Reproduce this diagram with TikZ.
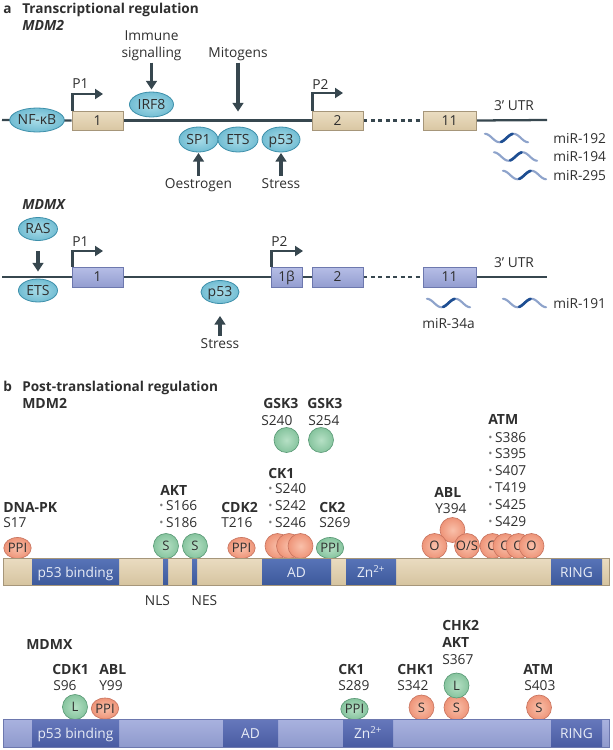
\documentclass[tikz,border=0pt]{standalone}
\usepackage{fontspec}
\setmainfont{Open Sans}
\usetikzlibrary{shapes.geometric,arrows.meta,backgrounds}
\newcommand\pxu{0.75pt}
\definecolor{txtcol}{HTML}{2F2F2F}
\definecolor{linecol}{HTML}{37474F}
\definecolor{tfin}{HTML}{A9DCE8}
\definecolor{tfout}{HTML}{72BDD3}
\definecolor{tfedge}{HTML}{3D8FAA}
\definecolor{extantop}{HTML}{EBDDC2}
\definecolor{extanbot}{HTML}{D9C7A3}
\definecolor{extanedge}{HTML}{A6967A}
\definecolor{exlavtop}{HTML}{B6BEE6}
\definecolor{exlavbot}{HTML}{939DD0}
\definecolor{exlavedge}{HTML}{6D78AE}
\definecolor{bartantop}{HTML}{EADCC1}
\definecolor{bartanmid}{HTML}{F0E6D2}
\definecolor{bartanbot}{HTML}{D6C4A0}
\definecolor{barlavtop}{HTML}{A9B2DF}
\definecolor{barlavmid}{HTML}{BCC4EA}
\definecolor{barlavbot}{HTML}{8F9ACD}
\definecolor{domtop}{HTML}{5874B8}
\definecolor{dombot}{HTML}{3D599B}
\definecolor{domxtop}{HTML}{6678BC}
\definecolor{domxbot}{HTML}{4A5CA2}
\definecolor{domtextcol}{HTML}{E8ECF6}
\definecolor{salin}{HTML}{F9C0AA}
\definecolor{salout}{HTML}{EE9478}
\definecolor{saledge}{HTML}{C97560}
\definecolor{grnin}{HTML}{B6E0C5}
\definecolor{grnout}{HTML}{86C49E}
\definecolor{grnedge}{HTML}{5A9A76}
\definecolor{wavelight}{HTML}{8EA3CB}
\definecolor{wavedark}{HTML}{1E4E92}
\definecolor{bulletgray}{HTML}{7A7A7A}
\newcommand\bul{{\color{bulletgray}\raisebox{0.12ex}{\scalebox{0.8}{•}}}\hspace{0.2em}}
\begin{document}
\begin{tikzpicture}[x=0.75pt,y=-0.75pt,
  txt/.style={inner sep=0pt, text=txtcol, font=\fontsize{10.3}{12.4}\selectfont},
  lb/.style={txt, anchor=base},
  lbw/.style={txt, anchor=base west},
  bld/.style={font=\fontsize{10.5}{12.6}\selectfont\bfseries},
  ttl/.style={font=\fontsize{10.2}{12.4}\selectfont\bfseries},
  hdr/.style={font=\fontsize{10.5}{12.6}\selectfont\bfseries},
  hdri/.style={font=\fontsize{10.5}{12.6}\selectfont\bfseries\itshape},
  tf/.style={ellipse, draw=tfedge, line width=0.6pt, inner color=tfin, outer color=tfout,
     inner sep=0pt, text=txtcol, font=\fontsize{10.5}{12}\selectfont, text height=7.4pt, text depth=0pt},
  exont/.style={rectangle, draw=extanedge, line width=0.6pt, top color=extantop, bottom color=extanbot,
     inner sep=0pt, text=txtcol, font=\fontsize{10.3}{12}\selectfont, text height=7.3pt, text depth=0pt,
     minimum width=51*\pxu, minimum height=19*\pxu},
  exonl/.style={exont, draw=exlavedge, top color=exlavtop, bottom color=exlavbot, minimum height=20*\pxu},
  dna/.style={draw=linecol, line width=1.7pt},
  dnadash/.style={dna, dash pattern=on 3pt off 2.6pt},
  prom/.style={draw=linecol, line width=1.9pt, -{Triangle[width=7.5pt,length=6pt]}},
  bigarrow/.style={draw=linecol, line width=2.6pt, -{Triangle[width=8pt,length=6.5pt]}},
  sph/.style={circle, inner sep=0pt, minimum size=25*\pxu, line width=0.5pt, text=txtcol,
     font=\fontsize{9.8}{12}\selectfont, text height=7pt, text depth=0pt},
  sal/.style={sph, draw=saledge, inner color=salin, outer color=salout},
  grn/.style={sph, draw=grnedge, inner color=grnin, outer color=grnout},
  ppis/.style={ellipse, minimum width=27*\pxu, minimum height=21*\pxu},
  domtxt/.style={txt, anchor=base, text=domtextcol},
  wavel/.style={draw=wavelight, line width=1.6pt, line cap=round},
  waved/.style={draw=wavedark, line width=2pt, line cap=round},
  mirwave/.pic={
    \draw[wavel] plot[domain=0:1.5,samples=40,smooth] ({\x*28.7},{-4.2*cos(\x*360)});
    \draw[waved] plot[domain=0.56:0.96,samples=14,smooth] ({\x*28.7},{-4.2*cos(\x*360)});
  }
]
\useasboundingbox (0,0) rectangle (612,750);

% ================= Part a: MDM2 =================
\node[lbw,ttl] (la) at (3,13) {a};
\node[lbw,ttl] (ta) at (22,13) {Transcriptional regulation};
\node[lbw,hdri] (mdmtwoa) at (22,30) {MDM2};

\coordinate (mL) at (2,120);
\coordinate (mR) at (547,120);
\node[exont] (eonem) at (97.5,120.5) {1};
\node[exont] (etwom) at (337.5,120.5) {2};
\node[exont, minimum width=53*\pxu] (eelevm) at (449.5,120.5) {11};

\node[tf, minimum width=50*\pxu, minimum height=24*\pxu] (nfkb) at (37,120) {NF-κB};
\node[tf, minimum width=44*\pxu, minimum height=25*\pxu] (irf) at (151.5,104.5) {IRF8};
\node[tf, minimum width=39*\pxu, minimum height=25*\pxu] (spone) at (198.5,139.5) {SP1};
\node[tf, minimum width=40*\pxu, minimum height=25*\pxu] (etsm) at (238,139.5) {ETS};
\node[tf, minimum width=38*\pxu, minimum height=25*\pxu] (pftm) at (281,139.5) {p53};

\begin{scope}[on background layer]
  \draw[dna] (mL) -- (eonem.west);
  \draw[dna] (eonem.east) -- (etwom.west);
  \draw[dnadash] (etwom.east) -- (eelevm.west);
  \draw[dna] (eelevm.east) -- (mR);
\end{scope}

\coordinate (ponem) at (103,94);
\coordinate (ptwom) at (343,93);
\draw[prom] ([xshift=0.8pt]eonem.north west) |- (ponem);
\draw[prom] ([xshift=0.8pt]etwom.north west) |- (ptwom);
\node[lbw] (ponelbl) at (72,88) {P1};
\node[lbw] (ptwolbl) at (312,89) {P2};

\node[lb] (immone) at (151.5,40) {Immune};
\node[lb] (immtwo) at (151.5,57) {signalling};
\node[lb] (mitog) at (238,57) {Mitogens};
\node[lb] (oestr) at (198.5,188) {Oestrogen};
\node[lb] (stressm) at (281,188) {Stress};
\draw[bigarrow, shorten <=2*\pxu, shorten >=2*\pxu] (immtwo.south) -- (irf.north);
\draw[bigarrow, shorten <=2*\pxu, shorten >=15*\pxu] (mitog.south) -- (etsm.north);
\draw[bigarrow, shorten <=2*\pxu, shorten >=0.5*\pxu] (oestr.north) -- (spone.south);
\draw[bigarrow, shorten <=2*\pxu, shorten >=0.5*\pxu] (stressm.north) -- (pftm.south);

\node[lb] (utrm) at (514,110) {3’ UTR};
\pic (wa) at (485,138) {mirwave};
\pic (wb) at (494,156.5) {mirwave};
\pic (wc) at (503,175) {mirwave};
\node[lbw] (mira) at (553,143) {miR-192};
\node[lbw] (mirb) at (553,161.5) {miR-194};
\node[lbw] (mirc) at (553,180) {miR-295};

% ================= Part a: MDMX =================
\node[lbw,hdri] (mdmxa) at (22,209) {MDMX};
\coordinate (xL) at (2,277);
\coordinate (xR) at (547,277);
\node[exonl] (eonex) at (97.5,277) {1};
\node[exonl, minimum width=31*\pxu] (ebetax) at (286.5,277) {1β};
\node[exonl] (etwox) at (337.5,277) {2};
\node[exonl, minimum width=53*\pxu] (eelevx) at (449.5,277) {11};

\node[tf, minimum width=39*\pxu, minimum height=23*\pxu] (ras) at (38,229) {RAS};
\node[tf, minimum width=39*\pxu, minimum height=23*\pxu] (etsx) at (38,290.5) {ETS};
\node[tf, minimum width=38*\pxu, minimum height=23*\pxu] (pftx) at (220,292) {p53};

\begin{scope}[on background layer]
  \draw[dna] (xL) -- (eonex.west);
  \draw[dna] (eonex.east) -- (ebetax.west);
  \draw[dna] (ebetax.east) -- (etwox.west);
  \draw[dnadash] (etwox.east) -- (eelevx.west);
  \draw[dna] (eelevx.east) -- (xR);
\end{scope}

\coordinate (ponex) at (103,251);
\coordinate (ptwox) at (303,251);
\draw[prom] ([xshift=0.8pt]eonex.north west) |- (ponex);
\draw[prom] ([xshift=0.8pt]ebetax.north west) |- (ptwox);
\node[lbw] (ponexl) at (72,246) {P1};
\node[lbw] (ptwoxl) at (271,246) {P2};

\draw[bigarrow, shorten <=10*\pxu, shorten >=7*\pxu] (ras.south) -- (etsx.north);
\node[lb] (stressx) at (220,348) {Stress};
\draw[bigarrow, shorten <=2*\pxu, shorten >=12*\pxu] (stressx.north) -- (pftx.south);

\node[lb] (utrx) at (514,267) {3’ UTR};
\pic (wd) at (427,303) {mirwave};
\pic (we) at (503,303) {mirwave};
\node[lb] (mird) at (448.5,328) {miR-34a};
\node[lbw] (mire) at (553,308) {miR-191};

% ================= Part b: MDM2 =================
\node[lbw,ttl] (lb) at (3,391) {b};
\node[lbw,ttl] (tb) at (22,391) {Post-translational regulation};
\node[lbw,hdr] (mdmtwob) at (22,408) {MDM2};

% circles (behind bar)
\node[sal,ppis] (cdnapk) at (17.5,548) {PPI};
\node[grn] (caktone) at (166,546) {S};
\node[grn] (cakttwo) at (195,546) {S};
\node[sal,ppis] (ccdktwo) at (241.5,548) {PPI};
\node[sal] (ckone) at (277.5,546) {};
\node[sal] (cktwo) at (289,546) {};
\node[sal] (ckthree) at (300.5,546) {};
\node[grn,ppis] (cckii) at (330,548) {PPI};
\node[grn] (cgska) at (286.5,440) {};
\node[grn] (cgskb) at (321,440) {};
\node[sal] (ctop) at (452.5,530) {};
\node[sal] (coone) at (434.5,546) {O};
\node[sal] (cos) at (467,546) {O/S};
\node[sal] (cofour) at (492.5,546) {O};
\node[sal] (cofive) at (505.5,546) {O};
\node[sal] (cosix) at (518.5,546) {O};
\node[sal] (coseven) at (531.5,546) {O};

% bar
\shade[top color=bartantop, middle color=bartanmid, bottom color=bartanbot] (3,558) rectangle (609,585);
\shade[top color=domtop, bottom color=dombot] (32,558) rectangle (119,585);
\shade[top color=domtop, bottom color=dombot] (163,558) rectangle (168,585);
\shade[top color=domtop, bottom color=dombot] (192,558) rectangle (197,585);
\shade[top color=domtop, bottom color=dombot] (262,558) rectangle (331,585);
\shade[top color=domtop, bottom color=dombot] (346,558) rectangle (396,585);
\shade[top color=domtop, bottom color=dombot] (551,558) rectangle (602,585);
\draw[draw=extanedge, line width=0.5pt] (3,558) rectangle (609,585);
\node[domtxt] (dpbind) at (75.5,577) {p53 binding};
\node[domtxt] (dad) at (296.5,577) {AD};
\node[domtxt] (dzn) at (371,577) {Zn\textsuperscript{2+}};
\node[domtxt] (dring) at (576.5,577) {RING};
\node[lb] (nls) at (157.5,605) {NLS};
\node[lb] (nes) at (204.5,605) {NES};

% labels
\node[lbw,bld] (dnapk) at (3,512) {DNA-PK};
\node[lbw] (sseventeen) at (3,527) {S17};
\node[lbw,bld] (akt) at (160,495) {AKT};
\node[lbw] (saktone) at (159,510) {\bul S166};
\node[lbw] (sakttwo) at (159,527) {\bul S186};
\node[lbw,bld] (cdktwo) at (221,512) {CDK2};
\node[lbw] (ttwosix) at (221,527) {T216};
\node[lbw,bld] (ckonel) at (268,478) {CK1};
\node[lbw] (ckla) at (268,493) {\bul S240};
\node[lbw] (cklb) at (268,510) {\bul S242};
\node[lbw] (cklc) at (268,527) {\bul S246};
\node[lbw,bld] (cktwol) at (319,512) {CK2};
\node[lbw] (stwosixnine) at (319,527) {S269};
\node[lbw,bld] (gska) at (263,408) {GSK3};
\node[lbw] (sgska) at (261,425) {S240};
\node[lbw,bld] (gskb) at (307,408) {GSK3};
\node[lbw] (sgskb) at (308,425) {S254};
\node[lbw,bld] (ablm) at (434,497) {ABL};
\node[lbw] (ythree) at (435,513) {Y394};
\node[lbw,bld] (atmm) at (488,424) {ATM};
\node[lbw] (atma) at (488,442) {\bul S386};
\node[lbw] (atmb) at (488,458.8) {\bul S395};
\node[lbw] (atmc) at (488,475.6) {\bul S407};
\node[lbw] (atmd) at (488,492.4) {\bul T419};
\node[lbw] (atme) at (488,509.2) {\bul S425};
\node[lbw] (atmf) at (488,526) {\bul S429};

% ================= Part b: MDMX =================
\node[lbw,hdr] (mdmxb) at (26,649) {MDMX};
\node[grn] (cl) at (75,707) {L};
\node[sal,ppis] (cabl) at (105,708.5) {PPI};
\node[grn,ppis] (cckx) at (354.5,709) {PPI};
\node[sal] (cchkone) at (421.5,707.5) {S};
\node[sal] (cchktwo) at (456.5,707.5) {S};
\node[grn] (clx) at (456.5,685.5) {L};
\node[sal] (catmx) at (539,707.5) {S};

\shade[top color=barlavtop, middle color=barlavmid, bottom color=barlavbot] (3,719) rectangle (609,747);
\shade[top color=domxtop, bottom color=domxbot] (32,719) rectangle (119,747);
\shade[top color=domxtop, bottom color=domxbot] (223,719) rectangle (278,747);
\shade[top color=domxtop, bottom color=domxbot] (343,719) rectangle (393,747);
\shade[top color=domxtop, bottom color=domxbot] (551,719) rectangle (602,747);
\draw[draw=exlavedge, line width=0.5pt] (3,719) rectangle (609,747);
\node[domtxt] (dxpbind) at (75.5,738) {p53 binding};
\node[domtxt] (dxad) at (250.5,738) {AD};
\node[domtxt] (dxzn) at (368,738) {Zn\textsuperscript{2+}};
\node[domtxt] (dxring) at (576.5,738) {RING};

\node[lbw,bld] (cdkone) at (52,674) {CDK1};
\node[lbw] (snsix) at (53,690) {S96};
\node[lbw,bld] (ablx) at (99,674) {ABL};
\node[lbw] (ynn) at (99,690) {Y99};
\node[lbw,bld] (ckonex) at (338,674) {CK1};
\node[lbw] (stwoeight) at (338,690) {S289};
\node[lbw,bld] (chkone) at (397,674) {CHK1};
\node[lbw] (sthreefour) at (397,690) {S342};
\node[lbw,bld] (chktwo) at (442,630) {CHK2};
\node[lbw,bld] (aktx) at (442,647) {AKT};
\node[lbw] (sthreesix) at (442,664) {S367};
\node[lbw,bld] (atmx) at (523,674) {ATM};
\node[lbw] (sfourzero) at (524,690) {S403};
\end{tikzpicture}
\end{document}
